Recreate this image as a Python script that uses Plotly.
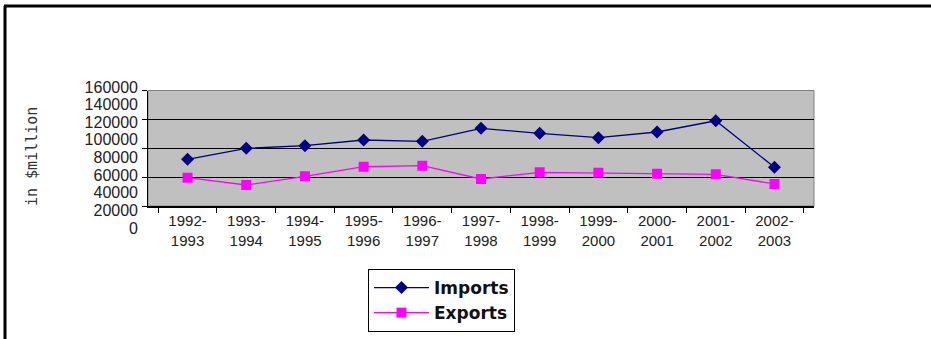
import plotly.graph_objects as go

# ---- data ----
years = ["1992-1993", "1993-1994", "1994-1995", "1995-1996", "1996-1997", "1997-1998",
         "1998-1999", "1999-2000", "2000-2001", "2001-2002", "2002-2003"]
tick_labels = ["1992-<br>1993", "1993-<br>1994", "1994-<br>1995", "1995-<br>1996", "1996-<br>1997",
               "1997-<br>1998", "1998-<br>1999", "1999-<br>2000", "2000-<br>2001", "2001-<br>2002",
               "2002-<br>2003"]
imports = [64700, 79900, 83500, 91400, 89600, 107600, 100700, 94600, 102500, 118100, 53600]
exports = [39200, 29100, 41100, 54400, 55800, 37400, 46700, 46100, 44700, 43900, 30500]

# ---- geometry helpers ----
W, H = 931, 339
L, R, T, B = 148, 117, 80, 100
PW, PH = W - L - R, H - T - B


def px(x):
    return (x - L) / PW


def py(y):
    return (H - B - y) / PH


fig = go.Figure()
fig.add_trace(go.Scatter(
    x=years, y=imports, name="Imports", mode="lines+markers",
    line=dict(color="#000080", width=1.3),
    marker=dict(symbol="diamond", size=10, color="#000080")))
fig.add_trace(go.Scatter(
    x=years, y=exports, name="Exports", mode="lines+markers",
    line=dict(color="#ff00ff", width=1.3),
    marker=dict(symbol="square", size=10, color="#ff00ff")))
# empty trace that carries the (offset) value-label axis
fig.add_trace(go.Scatter(x=[], y=[], yaxis="y2", showlegend=False, hoverinfo="skip"))

fig.update_layout(
    width=W, height=H,
    margin=dict(l=L, r=R, t=T, b=B, autoexpand=False),
    paper_bgcolor="white",
    plot_bgcolor="rgba(0,0,0,0)",
    font=dict(family="Arial, Liberation Sans, sans-serif", color="#222"),
    showlegend=True,
    legend=dict(
        x=px(368), y=py(269), xanchor="left", yanchor="top",
        bordercolor="black", borderwidth=1, bgcolor="white",
        font=dict(family="DejaVu Sans, Arial, sans-serif", size=17, color="#111", weight="bold"),
        tracegroupgap=0, itemwidth=55, entrywidth=115, entrywidthmode="pixels",
    ),
    xaxis=dict(
        type="category", tickmode="array", tickvals=years, ticktext=tick_labels,
        showline=True, linecolor="black", linewidth=2,
        ticks="outside", tickson="boundaries", ticklen=5, tickcolor="black",
        showgrid=False, tickfont=dict(size=15, color="#222"),
        anchor="y", automargin=False,
    ),
    yaxis=dict(
        domain=[py(206), py(90.5)], range=[0, 160000], dtick=40000, tick0=0,
        showline=True, linecolor="black", linewidth=1,
        ticks="outside", ticklen=5, tickcolor="black",
        showgrid=True, gridcolor="black", gridwidth=1,
        zeroline=False, showticklabels=False, automargin=False,
    ),
    yaxis2=dict(
        domain=[py(228), py(87)], range=[0, 160000], dtick=20000, tick0=0,
        tickformat="d",
        anchor="free", position=0, side="left",
        showline=False, showgrid=False, zeroline=False, ticks="",
        ticklabelstandoff=10, automargin=False,
        tickfont=dict(size=16, color="#222"),
    ),
    shapes=[
        dict(type="rect", xref="x domain", yref="y domain", x0=0, x1=1, y0=0, y1=1,
             fillcolor="#c0c0c0", line=dict(color="#808080", width=1), layer="below"),
        dict(type="line", xref="paper", yref="paper", x0=px(4), x1=px(931),
             y0=py(6), y1=py(6), line=dict(color="black", width=3)),
        dict(type="line", xref="paper", yref="paper", x0=px(5), x1=px(5),
             y0=py(6), y1=py(339), line=dict(color="black", width=3)),
    ],
    annotations=[
        dict(text="in $million", x=px(32), y=py(157), xref="paper", yref="paper",
             textangle=-90, showarrow=False, xanchor="center", yanchor="middle",
             font=dict(family="DejaVu Sans Mono", size=15, color="#333")),
    ],
)

fig.write_html("out.html")
